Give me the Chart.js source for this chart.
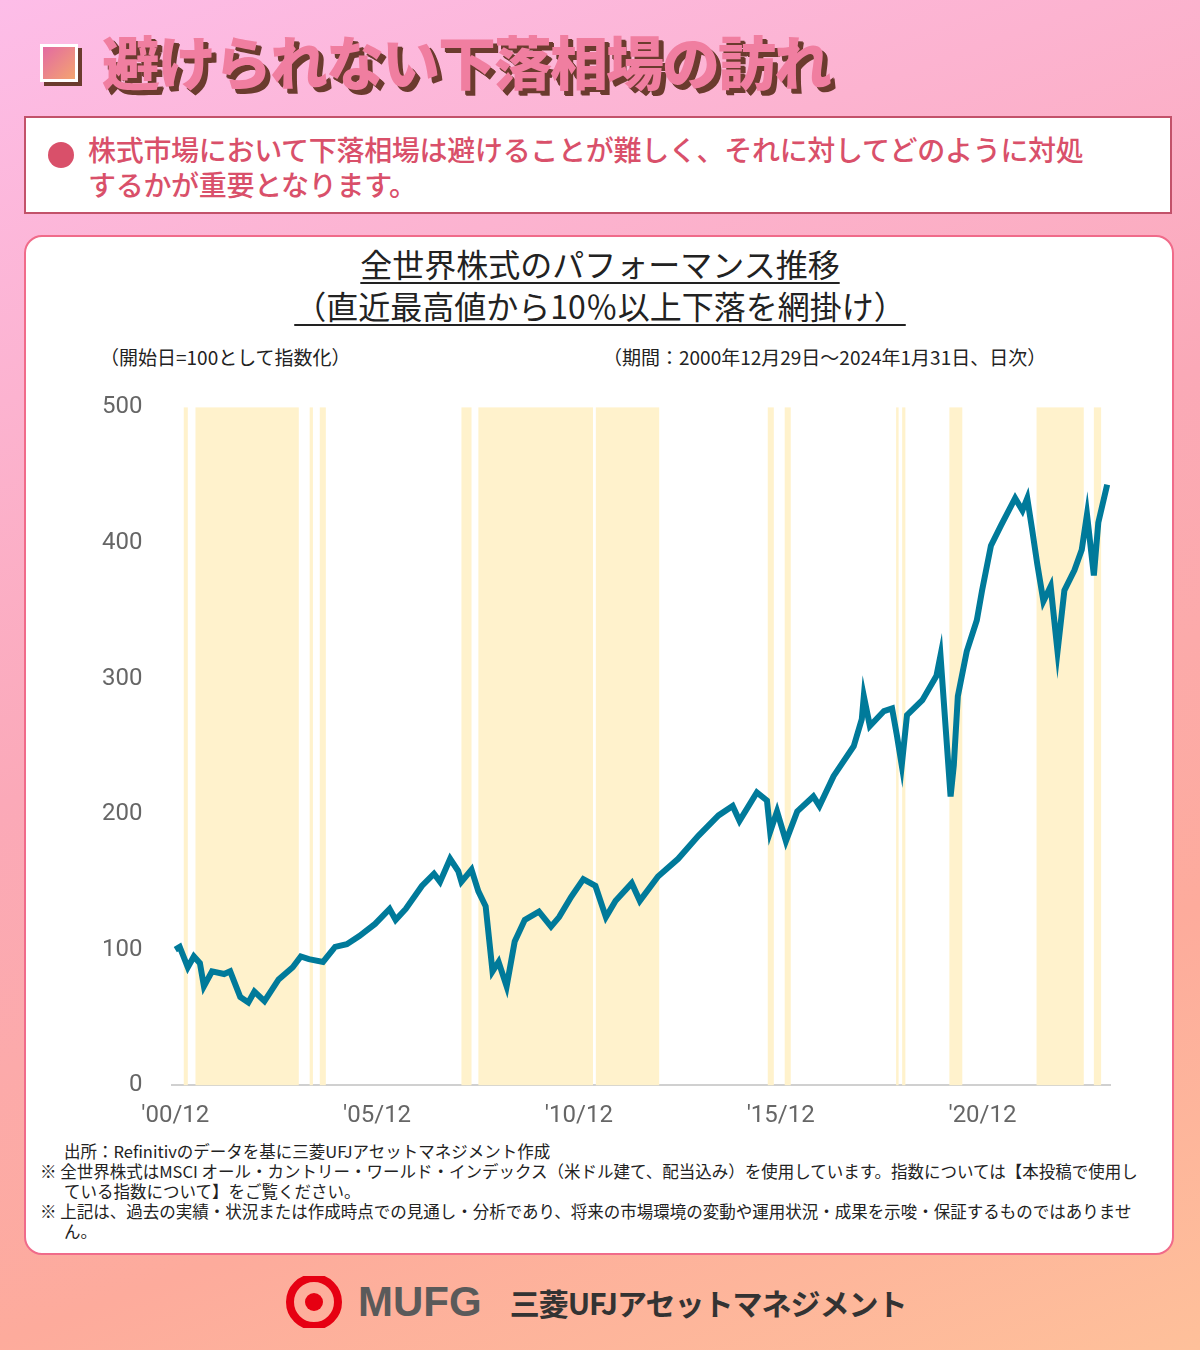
<!DOCTYPE html>
<html><head><meta charset="utf-8">
<script src="https://cdn.jsdelivr.net/npm/chart.js@4/dist/chart.umd.min.js"></script>
<style>
body{margin:0;width:1200px;height:1350px;overflow:hidden;font-family:"Noto Sans CJK JP","Noto Sans",sans-serif;background:linear-gradient(160deg,#fdbde8 0%,#fba9b8 45%,#fdab9c 75%,#fec09a 100%);position:relative}
.title{position:absolute;left:40px;top:18px;font-size:58px;font-weight:900;color:#f07ea0;text-shadow:4px 4px 0 #6b3b2e,5px 5px 0 #6b3b2e;letter-spacing:-2px}
.title .sq{display:inline-block;width:32px;height:32px;background:linear-gradient(135deg,#e36aa2,#f4a470);border:3px solid #fff;vertical-align:middle;margin-right:24px;box-shadow:4px 4px 0 #6b3b2e;position:relative;top:-6px}
.box{position:absolute;left:24px;top:116px;width:1148px;height:98px;background:#fff;border:2px solid #c2526a;box-sizing:border-box}
.box .dot{position:absolute;left:22px;top:24px;width:26px;height:26px;border-radius:50%;background:#d9506a}
.box .t{position:absolute;left:62px;top:14px;font-size:28px;line-height:35px;color:#d9506a;font-weight:500;letter-spacing:-0.3px}
.card{position:absolute;left:24px;top:235px;width:1150px;height:1020px;background:#fff;border:2px solid #f06b8a;border-radius:18px;box-sizing:border-box}
.ct{position:absolute;left:0;width:1200px;text-align:center;font-size:32px;color:#222;top:242px;line-height:42px}
.ct span{text-decoration:underline;text-underline-offset:5px;text-decoration-thickness:2px}
.lab{position:absolute;font-size:19px;color:#222;top:343px}
.note{position:absolute;left:40px;top:1141px;font-size:16.5px;line-height:20px;color:#222;width:1110px}
.note div{padding-left:24px;text-indent:-24px}
canvas{position:absolute;left:80px;top:371px}
.logo{position:absolute;top:1276px;left:278px;display:flex;align-items:center}
</style></head><body>
<div class="title"><span class="sq"></span>避けられない下落相場の訪れ</div>
<div class="box"><div class="dot"></div><div class="t">株式市場において下落相場は避けることが難しく、それに対してどのように対処<br>するかが重要となります。</div></div>
<div class="card"></div>
<div class="ct"><span>全世界株式のパフォーマンス推移</span><br><span>（直近最高値から10％以上下落を網掛け）</span></div>
<div class="lab" style="left:100px">（開始日=100として指数化）</div>
<div class="lab" style="left:603px">（期間：2000年12月29日～2024年1月31日、日次）</div>
<canvas id="c" width="1050" height="767" style="width:1050px;height:767px"></canvas>
<div class="note">
<div style="padding-left:24px;text-indent:0">出所：Refinitivのデータを基に三菱UFJアセットマネジメント作成</div>
<div>※ 全世界株式はMSCI オール・カントリー・ワールド・インデックス（米ドル建て、配当込み）を使用しています。指数については【本投稿で使用している指数について】をご覧ください。</div>
<div>※ 上記は、過去の実績・状況または作成時点での見通し・分析であり、将来の市場環境の変動や運用状況・成果を示唆・保証するものではありません。</div>
</div>
<div class="logo">
<svg width="72" height="52" viewBox="0 0 72 52"><circle cx="36" cy="26" r="24" fill="none" stroke="#e60012" stroke-width="8"/><circle cx="36" cy="26" r="9" fill="#e60012"/></svg>
<span style="font-family:'Liberation Sans',sans-serif;font-weight:700;font-size:42px;color:#5a5a5a;margin-left:8px">MUFG</span>
<span style="font-size:30px;font-weight:700;color:#333;margin-left:28px;letter-spacing:-1px">三菱UFJアセットマネジメント</span>
</div>
<script>
const years=[2000.99,2001.1,2001.3,2001.45,2001.6,2001.7,2001.9,2002.2,2002.35,2002.6,2002.8,2002.95,2003.2,2003.55,2003.9,2004.1,2004.3,2004.65,2004.95,2005.24,2005.55,2005.94,2006.3,2006.45,2006.7,2007.1,2007.4,2007.55,2007.8,2008.0,2008.08,2008.33,2008.5,2008.68,2008.85,2009.0,2009.2,2009.4,2009.65,2010.0,2010.3,2010.5,2010.8,2011.1,2011.4,2011.66,2011.9,2012.3,2012.5,2012.95,2013.45,2013.95,2014.45,2014.8,2014.97,2015.4,2015.65,2015.73,2015.9,2016.12,2016.4,2016.8,2016.95,2017.3,2017.8,2018.0,2018.05,2018.2,2018.55,2018.75,2018.87,2018.99,2019.12,2019.5,2019.85,2019.95,2020.2,2020.28,2020.38,2020.6,2020.85,2020.98,2021.2,2021.45,2021.8,2021.98,2022.1,2022.22,2022.35,2022.5,2022.68,2022.85,2023.02,2023.27,2023.45,2023.58,2023.75,2023.86,2024.08];
const values=[100,102,87,95,90,73,84,82,84,65,61,69,62,78,87,95,93,91,102,104,110,119,130,122,130,147,156,150,167,158,150,159,143,132,84,91,73,106,122,128,117,124,139,152,147,124,136,149,136,154,167,184,199,206,195,216,210,187,202,180,202,213,206,228,250,270,287,265,276,278,258,236,273,284,302,317,213,236,287,320,343,365,398,413,433,424,433,410,384,357,368,320,365,380,395,421,376,415,443];
const bandStart=[2001.2,2001.49,2004.32,2004.57,2008.08,2008.5,2011.41,2015.67,2016.09,2018.85,2019.0,2020.17,2022.33,2023.75];
const bandEnd=[2001.3,2004.05,2004.4,2004.72,2008.33,2011.34,2012.98,2015.82,2016.24,2018.9,2019.08,2020.49,2023.5,2023.93];
const xTickVals=[2000.99,2005.99,2010.99,2015.99,2020.99];
const xTickLabels=["'00/12","'05/12","'10/12","'15/12","'20/12"];
const yTicks=[0,100,200,300,400,500];
const bands={id:'bands',beforeDatasetsDraw(ch){const {ctx,chartArea:a,scales:{x}}=ch;ctx.save();ctx.fillStyle='#fff2cc';
bandStart.forEach((s,i)=>{const x0=x.getPixelForValue(s),x1=x.getPixelForValue(bandEnd[i]);ctx.fillRect(x0,a.top,Math.max(x1-x0,2.5),a.bottom-a.top);});ctx.restore();}};
new Chart(document.getElementById('c'),{type:'line',
data:{datasets:[{data:years.map((y,i)=>({x:y,y:values[i]})),borderColor:'#007a9a',borderWidth:6,pointRadius:0,tension:0,borderJoinStyle:'miter'}]},
options:{responsive:false,animation:false,layout:{padding:{right:20,top:10}},plugins:{legend:{display:false},tooltip:{enabled:false}},
scales:{x:{type:'linear',min:2000.92,max:2024.15,afterBuildTicks(s){s.ticks=xTickVals.map(v=>({value:v}));},
ticks:{callback:(v)=>{const i=xTickVals.indexOf(v);return i>=0?xTickLabels[i]:'';},font:{size:24,family:'Roboto'},color:'#666',padding:8,maxRotation:0},
grid:{display:false},border:{color:'#d0d0d0',width:2}},
y:{min:0,max:500,afterBuildTicks(s){s.ticks=yTicks.map(v=>({value:v}));},ticks:{font:{size:24,family:'Roboto'},color:'#666',padding:22},grid:{display:false},border:{display:false}}}},
plugins:[bands]});
</script>
</body></html>
